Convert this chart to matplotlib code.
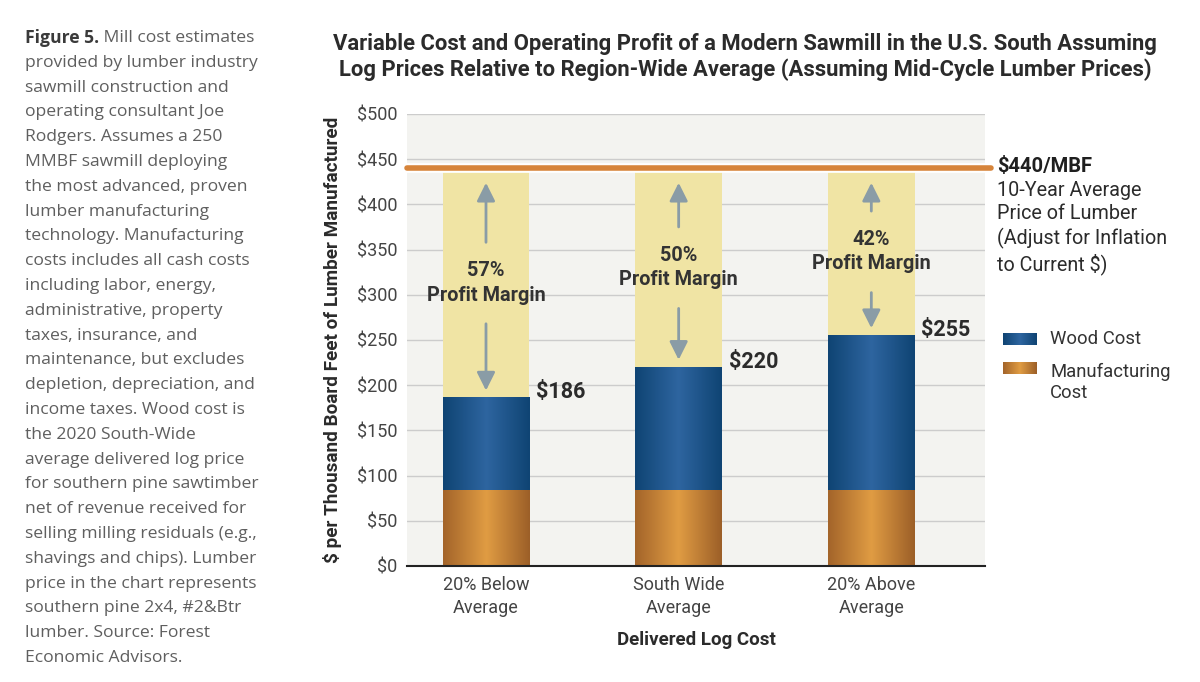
import numpy as np
import matplotlib
matplotlib.use("Agg")
import matplotlib.pyplot as plt
from matplotlib.colors import LinearSegmentedColormap
from matplotlib.text import Annotation

# data
categories = ["20% Below\nAverage", "South Wide\nAverage", "20% Above\nAverage"]
manufacturing = [84, 84, 84]
wood = [102, 136, 171]
totals = [m + w for m, w in zip(manufacturing, wood)]
lumber_price = 440
margins = ["57%", "50%", "42%"]
yticks = [0, 50, 100, 150, 200, 250, 300, 350, 400, 450, 500]

caption = [
    "provided by lumber industry",
    "sawmill construction and",
    "operating consultant Joe",
    "Rodgers. Assumes a 250",
    "MMBF sawmill deploying",
    "the most advanced, proven",
    "lumber manufacturing",
    "technology. Manufacturing",
    "costs includes all cash costs",
    "including labor, energy,",
    "administrative, property",
    "taxes, insurance, and",
    "maintenance, but excludes",
    "depletion, depreciation, and",
    "income taxes. Wood cost is",
    "the 2020 South-Wide",
    "average delivered log price",
    "for southern pine sawtimber",
    "net of revenue received for",
    "selling milling residuals (e.g.,",
    "shavings and chips). Lumber",
    "price in the chart represents",
    "southern pine 2x4, #2&Btr",
    "lumber. Source: Forest",
    "Economic Advisors.",
]

blue_cmap = LinearSegmentedColormap.from_list("blue", ["#0f4473", "#2e65a0", "#0f4473"])
orange_cmap = LinearSegmentedColormap.from_list("orange", ["#a3642a", "#e09c43", "#9c5f28"])
yellow = "#f0e4a4"
arrow_col = "#8a9ca6"
text_dark = "#2b2b2b"

plt.rcParams["font.family"] = ["Roboto", "DejaVu Sans"]

fig = plt.figure(figsize=(12, 6.82), dpi=100)
ax = fig.add_axes([407 / 1200, 1 - 566 / 682, 578 / 1200, 452 / 682])
ax.set_facecolor("#f3f3f0")

x = np.arange(len(categories))
width = 0.45
grad = np.linspace(0, 1, 200).reshape(1, -1)


def gradient_bar(xc, y0, y1, cmap):
    ax.imshow(grad, cmap=cmap, aspect="auto", zorder=3,
              extent=(xc - width / 2, xc + width / 2, y0, y1))


for i in range(len(categories)):
    # profit area
    ax.bar(x[i], lumber_price - totals[i], width, bottom=totals[i],
           color=yellow, zorder=2)
    gradient_bar(x[i], 0, manufacturing[i], orange_cmap)
    gradient_bar(x[i], manufacturing[i], totals[i], blue_cmap)

    # value label
    ax.text(x[i] + width / 2 + 0.035, totals[i] + 6, "$" + str(totals[i]),
            fontsize=15.5, fontweight="bold", color=text_dark,
            va="center", ha="left", zorder=5)

    # margin label and arrows
    mid = (totals[i] + lumber_price) / 2
    ax.text(x[i], mid, margins[i] + "\nProfit Margin", ha="center",
            va="center", fontsize=14.3, fontweight="bold", color="#333333",
            linespacing=1.35, zorder=5)
    ax.annotate("", xy=(x[i], lumber_price - 13), xytext=(x[i], mid + 42),
                arrowprops=dict(arrowstyle="-|>,head_width=0.55,head_length=1.1",
                                color=arrow_col, lw=2), zorder=4)
    ax.annotate("", xy=(x[i], totals[i] + 5), xytext=(x[i], mid - 42),
                arrowprops=dict(arrowstyle="-|>,head_width=0.55,head_length=1.1",
                                color=arrow_col, lw=2), zorder=4)

# lumber price line
ax.plot([-0.41, 2.62], [lumber_price] * 2, color="white", lw=7, zorder=5,
        solid_capstyle="round", clip_on=False)
ax.plot([-0.41, 2.62], [lumber_price] * 2, color="#d6843a", lw=4, zorder=6,
        solid_capstyle="round", clip_on=False)

ax.set_xlim(-0.41, 2.59)
ax.set_ylim(0, 500)
ax.set_yticks(yticks)
ax.set_yticklabels(["$" + str(v) for v in yticks], fontsize=13, color="#444444")
ax.set_xticks(x)
ax.set_xticklabels(categories, fontsize=13, color="#444444", linespacing=1.35)
ax.tick_params(length=0, pad=7)
ax.yaxis.grid(True, color="#cccccc", lw=1, zorder=0)
ax.set_axisbelow(True)
for s in ["left", "right", "top"]:
    ax.spines[s].set_visible(False)
ax.spines["bottom"].set_color("#222222")
ax.spines["bottom"].set_linewidth(1.5)
ax.spines["bottom"].set_zorder(7)

ax.set_ylabel("$ per Thousand Board Feet of Lumber Manufactured",
              fontsize=13.6, fontweight="bold", color=text_dark, labelpad=11)
ax.set_xlabel("Delivered Log Cost", fontsize=13.5, fontweight="bold",
              color=text_dark, labelpad=10)

fig.text(0.621, 1 - 57 / 682, "Variable Cost and Operating Profit of a Modern Sawmill in the U.S. South Assuming\n"
         "Log Prices Relative to Region-Wide Average (Assuming Mid-Cycle Lumber Prices)",
         ha="center", va="center", fontsize=15.8, fontweight="bold", color=text_dark,
         linespacing=1.23)

# price annotation on the right
fig.text(997 / 1200, 1 - 167 / 682, "$440/MBF", fontsize=14.5, fontweight="bold",
         color="#1f1f1f", va="center", ha="left")
fig.text(997 / 1200, 1 - 181 / 682,
         "10-Year Average\nPrice of Lumber\n(Adjust for Inflation\nto Current $)",
         fontsize=14.2, color="#2b2b2b", va="top", ha="left", linespacing=1.27)

# legend
for cmap, ypix, label in [(blue_cmap, 339, "Wood Cost"),
                          (orange_cmap, 368, "Manufacturing\nCost")]:
    lax = fig.add_axes([1003 / 1200, 1 - (ypix + 6) / 682, 34 / 1200, 12 / 682])
    lax.imshow(grad, cmap=cmap, aspect="auto")
    lax.axis("off")
    fig.text(1050 / 1200, 1 - (ypix - 5 if "\n" in label else ypix) / 682, label,
             fontsize=13.3, color="#333333",
             va="top" if "\n" in label else "center", ha="left", linespacing=1.24)

# caption on the left
t = fig.text(25 / 1200, 1 - 38 / 682, "Figure 5.", fontsize=12.6, fontweight="bold",
             color="#3a3a3a", family="Open Sans", va="center", ha="left")
a = Annotation(" Mill cost estimates", xy=(1, 0.5), xycoords=t, va="center", ha="left",
               fontsize=12.6, color="#5f5f5f", family="Open Sans")
fig.add_artist(a)
for k, line in enumerate(caption):
    fig.text(25 / 1200, 1 - (38 + 24.8 * (k + 1)) / 682, line, fontsize=12.6,
             color="#5f5f5f", family="Open Sans", va="center", ha="left")

fig.savefig("out.png", dpi=100)
